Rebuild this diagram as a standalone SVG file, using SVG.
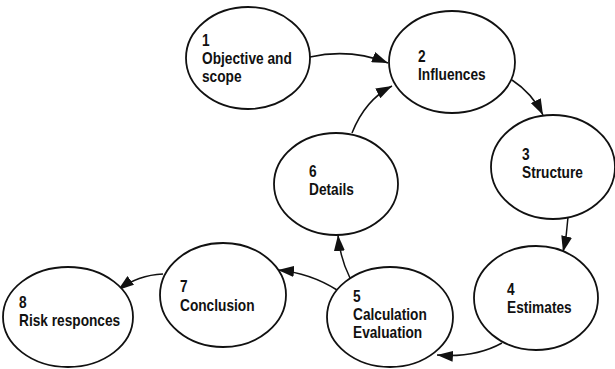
<svg xmlns="http://www.w3.org/2000/svg" width="615" height="369" viewBox="0 0 615 369">
<defs>
<style>
.node ellipse{fill:#fff;stroke:#111;stroke-width:1.8}
.node text{font-family:"Liberation Sans",Arial,sans-serif;font-weight:bold;font-size:16.5px;fill:#111}
.edge{fill:none;stroke:#111;stroke-width:1.5}
</style>
<marker id="ah" markerUnits="userSpaceOnUse" markerWidth="16" markerHeight="11" refX="16" refY="5.5" orient="auto">
<path d="M0,0 L16,5.5 L0,11 z" fill="#111"/>
</marker>
</defs>
<rect width="615" height="369" fill="#fff"/>
<g id="connectors">
<path class="edge" d="M310,57 Q350,48 388,63" marker-end="url(#ah)"/>
<path class="edge" d="M352,133 Q365,100 392,86" marker-end="url(#ah)"/>
<path class="edge" d="M512,80 Q532,93 543,115" marker-end="url(#ah)"/>
<path class="edge" d="M568,217 Q567,235 563,252" marker-end="url(#ah)"/>
<path class="edge" d="M502,343 Q475,358 437,355" marker-end="url(#ah)"/>
<path class="edge" d="M350,278 Q340,258 338,235" marker-end="url(#ah)"/>
<path class="edge" d="M337,290 Q310,273 278,270" marker-end="url(#ah)"/>
<path class="edge" d="M163,274 Q138,275 118,290" marker-end="url(#ah)"/>
</g>
<g id="n1" class="node"><ellipse cx="248" cy="58" rx="62" ry="51"/><g transform="translate(202,0) scale(0.83,1)"><text x="0" y="46">1</text><text x="0" y="64">Objective and</text><text x="0" y="82">scope</text></g></g>
<g id="n2" class="node"><ellipse cx="452" cy="62" rx="63" ry="51"/><g transform="translate(418,0) scale(0.83,1)"><text x="0" y="62">2</text><text x="0" y="80">Influences</text></g></g>
<g id="n3" class="node"><ellipse cx="553" cy="167" rx="62" ry="52"/><g transform="translate(522,0) scale(0.83,1)"><text x="0" y="160">3</text><text x="0" y="178">Structure</text></g></g>
<g id="n4" class="node"><ellipse cx="536" cy="298" rx="62" ry="52"/><g transform="translate(507,0) scale(0.83,1)"><text x="0" y="295">4</text><text x="0" y="313">Estimates</text></g></g>
<g id="n5" class="node"><ellipse cx="390" cy="317" rx="63" ry="50"/><g transform="translate(353,0) scale(0.83,1)"><text x="0" y="302">5</text><text x="0" y="320">Calculation</text><text x="0" y="338">Evaluation</text></g></g>
<g id="n6" class="node"><ellipse cx="336" cy="184" rx="62" ry="51"/><g transform="translate(309,0) scale(0.83,1)"><text x="0" y="177">6</text><text x="0" y="195">Details</text></g></g>
<g id="n7" class="node"><ellipse cx="223" cy="295" rx="63" ry="52"/><g transform="translate(180,0) scale(0.83,1)"><text x="0" y="292">7</text><text x="0" y="311">Conclusion</text></g></g>
<g id="n8" class="node"><ellipse cx="68" cy="317" rx="65" ry="50"/><g transform="translate(19,0) scale(0.83,1)"><text x="0" y="308">8</text><text x="0" y="326">Risk responces</text></g></g>
</svg>
